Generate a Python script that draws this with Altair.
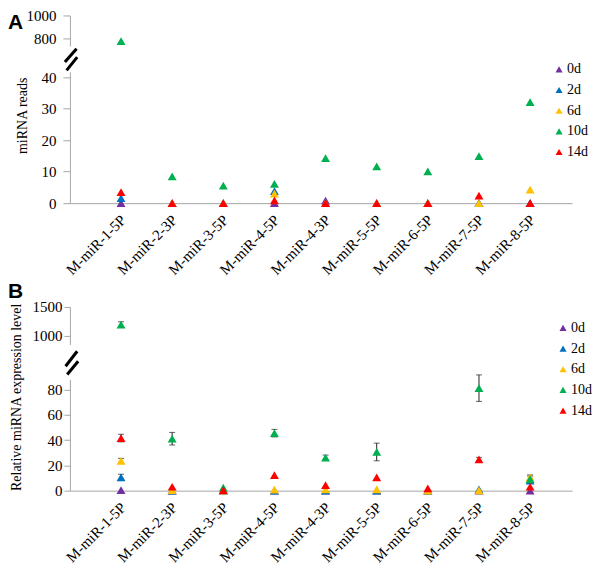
import pandas as pd
import altair as alt

# categories and series
mirnas = ["M-miR-1-5P", "M-miR-2-3P", "M-miR-3-5P", "M-miR-4-5P", "M-miR-4-3P",
          "M-miR-5-5P", "M-miR-6-5P", "M-miR-7-5P", "M-miR-8-5P"]
days = ["0d", "2d", "6d", "10d", "14d"]
day_colors = ["#7030A0", "#0070C0", "#FFC000", "#00B050", "#FF0000"]

# panel A: miRNA reads (None = no marker visible)
reads_0d = [0, 0, 0, 0, 0.8, 0, 0, 0, 0]
reads_2d = [1.6, 0, 0, 3.8, 0, 0, 0, 0, 0]
reads_6d = [None, 0, 0, 3.0, 0, 0, 0, 0, 4.3]
reads_10d = [780, 8.5, 5.6, 6.1, 14.3, 11.7, 10.1, 14.9, 32.1]
reads_14d = [3.5, 0, 0, 0.9, 0, 0, 0, 2.4, 0]

# panel B: relative expression (qPCR) with error
rel_0d = [0.5, 0, 0, 0, 0, 0, 0, 0, 0]
rel_2d = [10.5, 0, 0, 0, 0, 0, 0, 1.0, 8.0]
rel_6d = [23.6, 0.5, 0, 0.8, 1.0, 1.0, 0, 0.3, 10.5]
rel_10d = [1190, 41.2, 2.4, 45.6, 26.2, 30.7, None, 81.3, 9.1]
rel_14d = [41.7, 3.1, 0.5, 12.3, 4.4, 10.5, 1.8, 24.9, 3.1]
err_2d = [2.5, 0, 0, 0, 0, 0, 0, 0, 0]
err_6d = [2.0, 0, 0, 0, 0, 0, 0, 0, 2.0]
err_10d = [50, 5, 0, 3, 2, 7, 0, 10.5, 2.5]
err_14d = [3, 0, 0, 0, 0, 0, 0, 1.5, 0]

reads = [reads_0d, reads_2d, reads_6d, reads_10d, reads_14d]
rels = [rel_0d, rel_2d, rel_6d, rel_10d, rel_14d]
errs = [[0] * 9, err_2d, err_6d, err_10d, err_14d]

rows_a, rows_b = [], []
for d, vals in zip(days, reads):
    for i, v in enumerate(vals):
        if v is not None:
            rows_a.append({"idx": i + 1, "day": d, "v": v})
for d, vals, ee in zip(days, rels, errs):
    for i, (v, e) in enumerate(zip(vals, ee)):
        if v is not None:
            rows_b.append({"idx": i + 1, "day": d, "v": v, "err": e})
df_a = pd.DataFrame(rows_a)
df_b = pd.DataFrame(rows_b)

SERIF = "Liberation Serif"
W = 503
label_expr = str(mirnas) + "[datum.value - 1]"

color = alt.Color("day:N", scale=alt.Scale(domain=days, range=day_colors))

x_enc = alt.X("idx:Q", scale=alt.Scale(domain=[0, 9.82], nice=False),
              axis=alt.Axis(values=list(range(1, 10)), labelExpr=label_expr,
                            labelAngle=-45, labelAlign="right", labelBaseline="top",
                            labelPadding=9, labelOffset=-3, labelOverlap=False,
                            labelBound=False, ticks=False, grid=False, title=None,
                            labelFont=SERIF, labelFontSize=15, labelColor="black",
                            domainColor="#a6a6a6"))


def panel(df, up_start, up_d, up_k, top, ticks_lo, ticks_hi, ytitle, title_xy, height,
          letter, letter_y, brk, gap, legend_xy, tick_size, label_pad, with_err):
    # broken axis: lower segment 1:1, upper segment compressed
    expr_d = f"datum.v > {up_start} ? {up_d} + (datum.v - {ticks_hi[0]}) * {up_k} : datum.v"
    tick_vals = ticks_lo + [up_d + (t - ticks_hi[0]) * up_k for t in ticks_hi]
    lab = (f"datum.value > {ticks_lo[-1] + 2} ? '' + round(({ticks_hi[0]} + (datum.value - {up_d}) / {up_k}) / 100) * 100"
           f" : '' + datum.value")
    y_axis = alt.Axis(values=tick_vals, labelExpr=lab, grid=False, title=ytitle,
                      titleFont=SERIF, titleFontSize=14, titleFontWeight="normal",
                      titleColor="black", titleX=title_xy[0], titleY=title_xy[1],
                      labelFont=SERIF, labelFontSize=15, labelColor="black",
                      labelPadding=label_pad, tickSize=tick_size, tickColor="#a6a6a6",
                      domainColor="#a6a6a6")
    y_scale = alt.Scale(domain=[0, top], nice=False)

    base = alt.Chart(df).transform_calculate(yd=expr_d)
    pts = base.mark_point(shape="triangle-up", filled=True, size=80, opacity=1).encode(
        x=x_enc,
        y=alt.Y("yd:Q", scale=y_scale, axis=y_axis),
        color=color.legend(alt.Legend(title=None, orient="none", legendX=legend_xy[0],
                                      legendY=legend_xy[1], symbolSize=50,
                                      symbolType="triangle-up", labelFont=SERIF,
                                      labelFontSize=14, labelColor="black",
                                      rowPadding=6.7, labelOffset=1)),
    )
    layers = []
    if with_err:
        eb = base.transform_filter("datum.err > 0").transform_calculate(
            lo="datum.v - datum.err", hi="datum.v + datum.err"
        ).transform_calculate(
            lo_d=f"datum.lo > {up_start} ? {up_d} + (datum.lo - {ticks_hi[0]}) * {up_k} : datum.lo",
            hi_d=f"datum.hi > {up_start} ? {up_d} + (datum.hi - {ticks_hi[0]}) * {up_k} : datum.hi",
        ).mark_errorbar(ticks=True, size=6, thickness=1, color="#222").encode(
            x=x_enc,
            y=alt.Y("lo_d:Q", scale=y_scale, axis=y_axis),
            y2="hi_d:Q",
        )
        layers.append(eb)
    layers.append(pts)

    one = alt.Chart(pd.DataFrame({"t": [letter]}))
    cover = one.mark_rect(color="white").encode(
        x=alt.value(-2), x2=alt.value(2), y=alt.value(gap[0]), y2=alt.value(gap[1]))
    brk1 = one.mark_rule(color="black", strokeWidth=3).encode(
        x=alt.value(brk[0][0]), y=alt.value(brk[0][1]),
        x2=alt.value(brk[0][2]), y2=alt.value(brk[0][3]))
    brk2 = one.mark_rule(color="black", strokeWidth=3).encode(
        x=alt.value(brk[1][0]), y=alt.value(brk[1][1]),
        x2=alt.value(brk[1][2]), y2=alt.value(brk[1][3]))
    txt = one.mark_text(font="Liberation Sans", fontWeight="bold", fontSize=21,
                        align="left", baseline="top", color="black").encode(
        x=alt.value(-62), y=alt.value(letter_y), text="t:N")
    return alt.layer(*layers, cover, brk1, brk2, txt).properties(width=W, height=height)


chart_a = panel(df_a, 100, 52.2, 0.037, 59.6, [0, 10, 20, 30, 40], [800, 1000],
                "miRNA reads", (-40, 100), 188, "A", -3,
                [(6.7, 33.3, -5, 46.7), (7.3, 41.7, -3.3, 55)], (31, 57),
                (483, 47), 7, 7, False)
chart_b = panel(df_b, 200, 123.1, 0.0452, 145.7, [0, 20, 40, 60, 80], [1000, 1500],
                "Relative miRNA expression level", (-46, 90), 184, "B", -26,
                [(7.3, 44.4, -4.3, 59.4), (8.3, 54.4, -2.7, 67.7)], (38, 73),
                (487, 14), 6, 2, True)

chart = alt.vconcat(chart_a, chart_b, spacing=104, bounds="flush").resolve_legend(
    color="independent"
).properties(padding=0).configure_view(stroke=None).configure_axis(
    labelFont=SERIF, titleFont=SERIF
).configure_legend(labelFont=SERIF)

chart.save("out.html", embed_options={"renderer": "svg", "actions": False})
